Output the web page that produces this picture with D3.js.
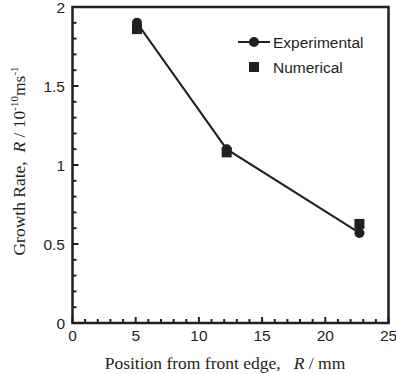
<!DOCTYPE html>
<html><head><meta charset="utf-8">
<script src="https://cdn.jsdelivr.net/npm/d3@7"></script>
<style>body{margin:0;background:#fff}svg{display:block}</style>
</head><body>
<script>
const positions = [5.1, 12.2, 22.7];
const experimental = [1.9, 1.1, 0.57];
const numerical = [1.86, 1.08, 0.627];
const xTicks = [0, 5, 10, 15, 20, 25];
const yTicks = [0, 0.5, 1, 1.5, 2];
const yTickLabels = ["0", "0.5", "1", "1.5", "2"];

const W = 396, H = 374;
const ink = "#231f20";
const sans = "Liberation Sans, Arial, sans-serif";
const serif = "Liberation Serif, Times New Roman, serif";
const svg = d3.select("body").append("svg").attr("width", W).attr("height", H);
const x = d3.scaleLinear().domain([0, 25]).range([72.5, 388.5]);
const y = d3.scaleLinear().domain([0, 2]).range([323, 7]);

// minor/major ticks (inward)
const g = svg.append("g");
d3.range(0, 26, 1).forEach(v => {
  const major = v % 5 === 0;
  g.append("line").attr("x1", x(v)).attr("x2", x(v)).attr("y1", y(0)).attr("y2", y(0) - (major ? 6 : 4))
    .attr("stroke", ink).attr("stroke-width", 2);
});
d3.range(0, 21, 1).forEach(i => {
  const v = i / 10;
  const major = i % 5 === 0;
  g.append("line").attr("x1", x(0)).attr("x2", x(0) + (major ? 6 : 4)).attr("y1", y(v)).attr("y2", y(v))
    .attr("stroke", ink).attr("stroke-width", 2);
});

// frame
svg.append("rect").attr("x", x(0)).attr("y", y(2)).attr("width", x(25) - x(0)).attr("height", y(0) - y(2))
  .attr("fill", "none").attr("stroke", ink).attr("stroke-width", 2.5);

// tick labels
svg.append("g").selectAll("text").data(xTicks).join("text")
  .attr("x", d => x(d)).attr("y", 341).attr("text-anchor", "middle")
  .attr("font-family", sans).attr("font-size", 15.5).attr("fill", ink)
  .text(d => d);
svg.append("g").selectAll("text").data(yTicks).join("text")
  .attr("x", 65).attr("y", d => y(d) + 5.5).attr("text-anchor", "end")
  .attr("font-family", sans).attr("font-size", 15.5).attr("fill", ink)
  .text((d, i) => yTickLabels[i]);

// axis titles
const xt = svg.append("text").attr("x", 225).attr("y", 369).attr("text-anchor", "middle")
  .attr("font-family", serif).attr("font-size", 17.5).attr("fill", ink)
  .attr("xml:space", "preserve");
xt.append("tspan").text("Position from front edge,   ");
xt.append("tspan").attr("font-style", "italic").text("R");
xt.append("tspan").text(" / mm");

const yt = svg.append("text").attr("transform", "translate(25,161) rotate(-90)").attr("text-anchor", "middle")
  .attr("font-family", serif).attr("font-size", 17.5).attr("fill", ink)
  .attr("xml:space", "preserve");
yt.append("tspan").text("Growth Rate,  ");
yt.append("tspan").attr("font-style", "italic").text("R");
yt.append("tspan").text(" / 10");
yt.append("tspan").attr("font-size", 11).attr("dy", -7).text("-10");
yt.append("tspan").attr("dy", 7).text("ms");
yt.append("tspan").attr("font-size", 11).attr("dy", -7).text("-1");

// line
const line = d3.line().x((d, i) => x(positions[i])).y(d => y(d));
svg.append("path").attr("d", line(experimental)).attr("fill", "none").attr("stroke", ink).attr("stroke-width", 2);
// circles
svg.append("g").selectAll("circle").data(experimental).join("circle")
  .attr("cx", (d, i) => x(positions[i])).attr("cy", d => y(d)).attr("r", 5).attr("fill", ink);
// squares
const s = 10;
svg.append("g").selectAll("rect").data(numerical).join("rect")
  .attr("x", (d, i) => x(positions[i]) - s / 2).attr("y", d => y(d) - s / 2)
  .attr("width", s).attr("height", s).attr("fill", ink);

// legend
const lg = svg.append("g");
lg.append("line").attr("x1", 238).attr("x2", 270).attr("y1", 42).attr("y2", 42).attr("stroke", ink).attr("stroke-width", 2);
lg.append("circle").attr("cx", 254).attr("cy", 42).attr("r", 5).attr("fill", ink);
lg.append("rect").attr("x", 249).attr("y", 62).attr("width", 10).attr("height", 10).attr("fill", ink);
lg.append("text").attr("x", 273).attr("y", 48).attr("font-family", sans)
  .attr("font-size", 15.5).attr("fill", ink).text("Experimental");
lg.append("text").attr("x", 273).attr("y", 73).attr("font-family", sans)
  .attr("font-size", 15.5).attr("fill", ink).text("Numerical");
</script>
</body></html>
